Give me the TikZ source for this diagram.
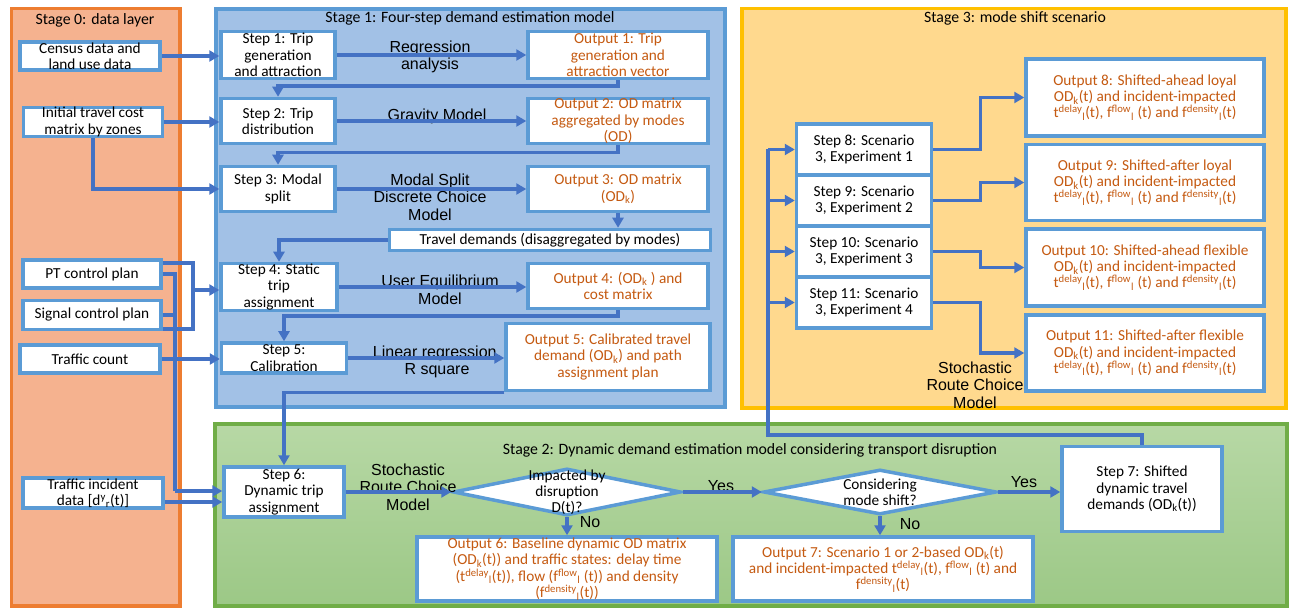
\documentclass[tikz,border=0pt]{standalone}
\usepackage{fontspec}
\setmainfont{Carlito}
\newfontfamily\arialfont{Liberation Sans}
\usetikzlibrary{arrows.meta,positioning,shapes.geometric}

\definecolor{s0fill}{HTML}{F5B28F}
\definecolor{s0line}{HTML}{ED7D31}
\definecolor{s1fill}{HTML}{A2C1E6}
\definecolor{s1line}{HTML}{5B9BD5}
\definecolor{s2top}{HTML}{B7D8A5}
\definecolor{s2bot}{HTML}{9CC886}
\definecolor{s2line}{HTML}{70AD47}
\definecolor{s3fill}{HTML}{FFD98E}
\definecolor{s3line}{HTML}{FFC000}
\definecolor{boxline}{HTML}{5B9BD5}
\definecolor{arrblue}{HTML}{4472C4}
\definecolor{outtext}{HTML}{C55A11}

\tikzset{
  panel/.style={line width=3.5pt},
  title/.style={font=\fontsize{15.8}{17}\selectfont, inner sep=0pt},
  stepbox/.style={draw=boxline, fill=white, line width=3.5pt, align=center,
    inner sep=0pt, font=\fontsize{15.3}{16.3}\selectfont},
  outbox/.style={stepbox, text=outtext},
  dia/.style={diamond, draw=boxline, fill=white, line width=3.5pt, inner sep=0pt},
  diatext/.style={align=center, inner sep=0pt, font=\fontsize{15.3}{16}\selectfont},
  lbl/.style={align=center, inner sep=0pt, font=\arialfont\fontsize{16}{17.5}\selectfont},
  conn/.style={draw=arrblue, line width=3.5pt},
  arr/.style={conn, -{Triangle[length=10pt,width=11pt]}},
}

\begin{document}
\begin{tikzpicture}[x=1pt, y=-1pt]
    % 背景与边界
    \fill[white] (0,0) rectangle (1291,612);
    \useasboundingbox (0,0) rectangle (1291,612);

    % 四个阶段的底板
    \filldraw[panel, fill=s0fill, draw=s0line] (11.5,8.5) rectangle (180,606);
    \filldraw[panel, fill=s1fill, draw=s1line] (216,9) rectangle (725,407);
    \filldraw[panel, fill=s3fill, draw=s3line] (742,8.5) rectangle (1286,408);
    \shade[top color=s2top, bottom color=s2bot] (215,424) rectangle (1287,606);
    \draw[panel, draw=s2line] (215,424) rectangle (1287,606);

    % 阶段标题
    \node[title] (t0) at (95,20) {Stage 0: data layer};
    \node[title] (t1) at (470,18) {Stage 1: Four-step demand estimation model};
    \node[title] (t2) at (750,450) {Stage 2: Dynamic demand estimation model considering transport disruption};
    \node[title] (t3) at (1015,18) {Stage 3: mode shift scenario};

    % Stage 0: 数据层
    \node[stepbox, minimum width=140pt, minimum height=28pt] (census) at (90,56) {Census data and\\land use data};
    \node[stepbox, minimum width=139pt, minimum height=28pt] (cost) at (93,122) {Initial travel cost\\matrix by zones};
    \node[stepbox, minimum width=138pt, minimum height=28pt] (pt) at (92,274) {PT control plan};
    \node[stepbox, minimum width=138pt, minimum height=29pt] (signal) at (92,315) {Signal control plan};
    \node[stepbox, minimum width=140pt, minimum height=28pt] (count) at (90,359) {Traffic count};
    \node[stepbox, minimum width=140pt, minimum height=30pt] (incident) at (93,493) {Traffic incident\\data [d\textsuperscript{y}\textsubscript{r}(t)]};

    % Stage 1: 四阶段模型
    \node[stepbox, minimum width=114pt, minimum height=47pt] (step1) at (278,55) {Step 1: Trip\\generation\\and attraction};
    \node[outbox, minimum width=180pt, minimum height=47pt] (out1) at (618,55) {Output 1: Trip\\generation and\\attraction vector};
    \node[stepbox, minimum width=114pt, minimum height=45pt] (step2) at (278,121) {Step 2: Trip\\distribution};
    \node[outbox, minimum width=180pt, minimum height=45pt] (out2) at (618,121) {Output 2: OD matrix\\aggregated by modes\\(OD)};
    \node[stepbox, minimum width=114pt, minimum height=45pt] (step3) at (278,189) {Step 3: Modal\\split};
    \node[outbox, minimum width=180pt, minimum height=45pt] (out3) at (618,189) {Output 3: OD matrix\\(OD\textsubscript{k})};
    \node[stepbox, minimum width=321pt, minimum height=21pt] (demand) at (550,240) {Travel demands (disaggregated by modes)};
    \node[stepbox, minimum width=116pt, minimum height=47pt] (step4) at (279,287) {Step 4: Static\\trip\\assignment};
    \node[outbox, minimum width=180pt, minimum height=45pt] (out4) at (618,286) {Output 4: (OD\textsubscript{k} ) and\\cost matrix};
    \node[stepbox, minimum width=125pt, minimum height=30pt] (step5) at (284,358) {Step 5:\\Calibration};
    \node[outbox, minimum width=204pt, minimum height=67pt] (out5) at (608,357) {Output 5: Calibrated travel\\demand (OD\textsubscript{k}) and path\\assignment plan};

    % Stage 1 的方法标注
    \node[lbl] (m1) at (430,57) {Regression\\analysis};
    \node[lbl] (m2) at (437,116) {Gravity Model};
    \node[lbl] (m3) at (430,197) {Modal Split\\Discrete Choice\\Model};
    \node[lbl] (m4) at (440,290) {User Equilibrium\\Model};
    \node[lbl] (m5) at (437,362) {Linear regression,\\R square};

    % Stage 2: 动态需求估计
    \node[stepbox, minimum width=120pt, minimum height=50pt] (step6) at (284,492) {Step 6:\\Dynamic trip\\assignment};
    \node[dia, minimum width=228pt, minimum height=47pt] (disr) at (567,492) {};
    \node[diatext] (disrtxt) at (disr) {Impacted by\\disruption\\D(t)?};
    \node[dia, minimum width=233pt, minimum height=45pt] (mode) at (880,492) {};
    \node[diatext] (modetxt) at (mode) {Considering\\mode shift?};
    \node[stepbox, minimum width=160pt, minimum height=85pt] (step7) at (1142,489) {Step 7: Shifted\\dynamic travel\\demands (OD\textsubscript{k}(t))};
    \node[outbox, minimum width=300pt, minimum height=64pt] (out6) at (567,569) {Output 6: Baseline dynamic OD matrix\\(OD\textsubscript{k}(t)) and traffic states: delay time\\(t\textsuperscript{delay}\textsubscript{l}(t)), flow (f\textsuperscript{flow}\textsubscript{l} (t)) and density\\(f\textsuperscript{density}\textsubscript{l}(t))};
    \node[outbox, minimum width=300pt, minimum height=64pt] (out7) at (883,569) {Output 7: Scenario 1 or 2-based OD\textsubscript{k}(t)\\and incident-impacted t\textsuperscript{delay}\textsubscript{l}(t), f\textsuperscript{flow}\textsubscript{l} (t) and\\f\textsuperscript{density}\textsubscript{l}(t)};
    \node[lbl] (m6) at (408,487) {Stochastic\\Route Choice\\Model};
    \node[lbl] (yes1) at (721,486) {Yes};
    \node[lbl] (no1) at (590,522) {No};
    \node[lbl] (yes2) at (1024,482) {Yes};
    \node[lbl] (no2) at (910,524) {No};

    % Stage 3: 方式转移情景
    \node[stepbox, minimum width=135pt, minimum height=51pt] (step8) at (864,149.5) {Step 8: Scenario\\3, Experiment 1};
    \node[stepbox, minimum width=135pt, minimum height=51pt, below=-3.5pt of step8] (step9) {Step 9: Scenario\\3, Experiment 2};
    \node[stepbox, minimum width=135pt, minimum height=51pt, below=-3.5pt of step9] (step10) {Step 10: Scenario\\3, Experiment 3};
    \node[stepbox, minimum width=135pt, minimum height=51pt, below=-3.5pt of step10] (step11) {Step 11: Scenario\\3, Experiment 4};
    \node[outbox, minimum width=238pt, minimum height=77pt] (out8) at (1145,97.5) {Output 8: Shifted-ahead loyal\\OD\textsubscript{k}(t) and incident-impacted\\t\textsuperscript{delay}\textsubscript{l}(t), f\textsuperscript{flow}\textsubscript{l} (t) and f\textsuperscript{density}\textsubscript{l}(t)};
    \node[outbox, minimum width=238pt, minimum height=76pt] (out9) at (1145,182.5) {Output 9: Shifted-after loyal\\OD\textsubscript{k}(t) and incident-impacted\\t\textsuperscript{delay}\textsubscript{l}(t), f\textsuperscript{flow}\textsubscript{l} (t) and f\textsuperscript{density}\textsubscript{l}(t)};
    \node[outbox, minimum width=238pt, minimum height=77pt] (out10) at (1145,267.5) {Output 10: Shifted-ahead flexible\\OD\textsubscript{k}(t) and incident-impacted\\t\textsuperscript{delay}\textsubscript{l}(t), f\textsuperscript{flow}\textsubscript{l} (t) and f\textsuperscript{density}\textsubscript{l}(t)};
    \node[outbox, minimum width=238pt, minimum height=76pt] (out11) at (1145,353) {Output 11: Shifted-after flexible\\OD\textsubscript{k}(t) and incident-impacted\\t\textsuperscript{delay}\textsubscript{l}(t), f\textsuperscript{flow}\textsubscript{l} (t) and f\textsuperscript{density}\textsubscript{l}(t)};
    \node[lbl] (m7) at (975,385) {Stochastic\\Route Choice\\Model};

    % 数据层到各步骤的连线
    \coordinate (j4) at (193,290);
    \coordinate (j6) at (175,491);
    \draw[arr] (census.east) -- (census.east -| step1.west);
    \draw[arr] (cost.east) -- (cost.east -| step2.west);
    \draw[arr] (cost.south) |- (step3.west);
    \draw[conn] ([yshift=11pt]pt.east) -| (j4);
    \draw[conn] ([yshift=-14pt]signal.east) -| (j4);
    \draw[arr] (j4) -- (j4 -| step4.west);
    \draw[arr] (count.east) -- (count.east -| step5.west);
    \draw[conn] (pt.east) -| (j6);
    \draw[conn] (signal.east) -- (signal.east -| j6);
    \draw[arr] (j6) -- (j6 -| step6.west);
    \draw[arr] ([yshift=-9pt]incident.east) -- ([yshift=-9pt]incident.east -| step6.west);

    % Stage 1 内部连线
    \draw[arr] (step1.east) -- (step1.east -| out1.west);
    \draw[arr] (out1.south) -- ++(0,6) -| (step2.north);
    \draw[arr] (step2.east) -- (step2.east -| out2.west);
    \draw[arr] (out2.south) -- ++(0,7) -| (step3.north);
    \draw[arr] (step3.east) -- (step3.east -| out3.west);
    \draw[arr] (out3.south) -- (out3.south |- demand.north);
    \draw[arr] (demand.west) -| (step4.north);
    \draw[arr] (step4.east) -- (step4.east -| out4.west);
    \draw[arr] (out4.south) -- ++(0,6) -| (step5.north);
    \draw[arr] (step5.east) -- (step5.east -| out5.west);
    \draw[arr] (out5.south west) -| (step6.north);

    % Stage 2 内部连线
    \draw[arr] (step6.east) -- (disr.west);
    \draw[arr] (disr.east) -- (mode.west);
    \draw[arr] (disr.south) -- (disr.south |- out6.north);
    \draw[arr] (mode.south) -- (mode.south |- out7.north);
    \draw[arr] (mode.east) -- (mode.east -| step7.west);

    % Step 7 回到 Stage 3
    \coordinate (loop) at (768,435);
    \draw[conn] (step7.north) |- (loop) -- (loop |- step8.west);
    \foreach \s in {8,...,11}
        \draw[arr] (loop |- step\s.west) -- (step\s.west);
    \foreach \s in {8,...,11}
        \draw[arr] (step\s.east) -- ++(47,0) |- (out\s.west);
\end{tikzpicture}
\end{document}
